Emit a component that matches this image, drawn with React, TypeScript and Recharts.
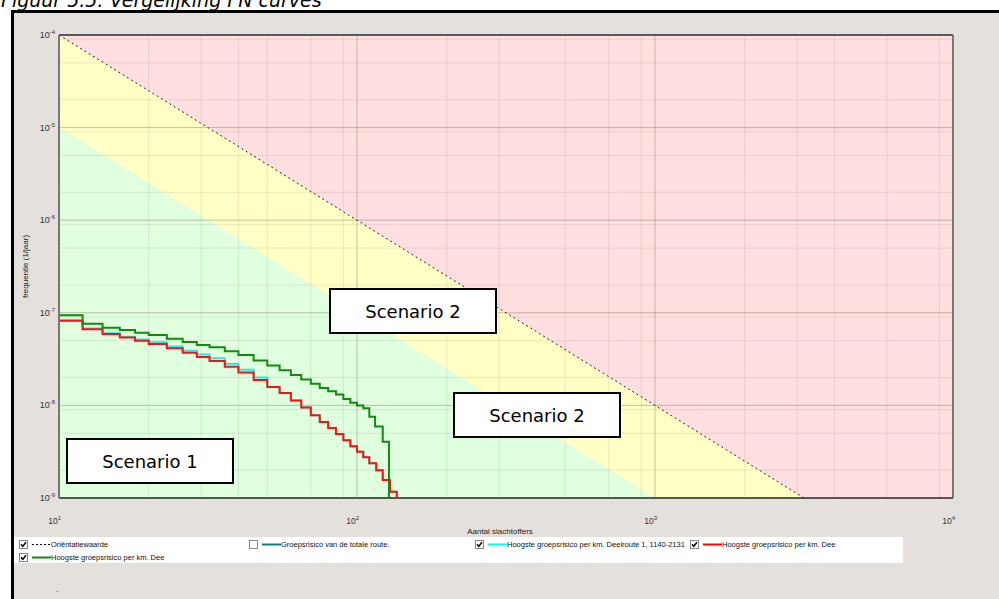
import { Area, CartesianGrid, ComposedChart, Label, Line, ReferenceLine, XAxis, YAxis } from 'recharts';

// N (aantal slachtoffers) and frequency per jaar
const greenN = [10, 12, 14, 16, 18, 20, 23, 26, 29, 32, 36, 40, 45, 50, 55, 60, 65, 70, 75, 80, 85, 90, 95, 100, 105, 110, 115, 122, 128];
const greenF = [9.4e-8, 7.6e-8, 6.9e-8, 6.5e-8, 6.1e-8, 5.75e-8, 5.25e-8, 4.85e-8, 4.5e-8, 4.25e-8, 3.85e-8, 3.5e-8, 3.05e-8, 2.7e-8, 2.4e-8, 2.13e-8, 1.9e-8, 1.71e-8, 1.54e-8, 1.42e-8, 1.31e-8, 1.17e-8, 1.07e-8, 1.0e-8, 9.3e-9, 7.55e-9, 5.9e-9, 4.06e-9, 1e-9];

const redN = [10, 12, 14, 16, 18, 20, 23, 26, 29, 32, 36, 40, 45, 50, 55, 60, 65, 70, 75, 80, 85, 90, 95, 100, 105, 110, 116, 122, 129, 136];
const redF = [8.2e-8, 6.64e-8, 5.9e-8, 5.4e-8, 5.0e-8, 4.6e-8, 4.13e-8, 3.7e-8, 3.33e-8, 3.02e-8, 2.61e-8, 2.26e-8, 1.88e-8, 1.58e-8, 1.36e-8, 1.13e-8, 9.5e-9, 7.85e-9, 6.6e-9, 5.7e-9, 4.9e-9, 4.2e-9, 3.63e-9, 3.16e-9, 2.75e-9, 2.37e-9, 2.0e-9, 1.56e-9, 1.17e-9, 1e-9];
const cyanF = [8.3e-8, 6.75e-8, 6.0e-8, 5.5e-8, 5.15e-8, 4.8e-8, 4.33e-8, 3.9e-8, 3.55e-8, 3.22e-8, 2.8e-8, 2.42e-8, 2.0e-8, 1.58e-8, 1.36e-8, 1.13e-8, 9.5e-9, 7.85e-9, 6.6e-9, 5.7e-9, 4.9e-9, 4.2e-9, 3.63e-9, 3.16e-9, 2.75e-9, 2.37e-9, 2.0e-9, 1.56e-9, 1.17e-9, 1e-9];

// oriëntatiewaarde and the coloured zones
const orientN = [10, 3162];
const orientF = [1e-4, 1e-9];
const redZoneN = [10, 10000];
const redZoneLow = [1e-9, 1e-9];
const redZoneHigh = [1e-4, 1e-4];
const yellowZoneN = [10, 1000, 3162];
const yellowZoneLow = [1e-5, 1e-9, 1e-9];
const yellowZoneHigh = [1e-4, 1e-8, 1e-9];
const greenZoneN = [10, 1000];
const greenZoneLow = [1e-9, 1e-9];
const greenZoneHigh = [1e-5, 1e-9];

const xTicks = [10, 100, 1000, 10000];
const yTicks = [1e-9, 1e-8, 1e-7, 1e-6, 1e-5, 1e-4];

const legendItems = [
  { label: 'Oriëntatiewaarde', color: '#000', dashed: true, checked: true, row: 0, x: 5 },
  { label: 'Groepsrisico van de totale route.', color: '#0a7f86', dashed: false, checked: false, row: 0, x: 235 },
  { label: 'Hoogste groepsrisico per km. Deelroute 1, 1140-2131', color: '#00ffff', dashed: false, checked: true, row: 0, x: 461 },
  { label: 'Hoogste groepsrisico per km. Dee', color: '#ff0000', dashed: false, checked: true, row: 0, x: 676 },
  { label: 'Hoogste groepsrisico per km. Dee', color: '#118a11', dashed: false, checked: true, row: 1, x: 5 },
];

const zip = (n: number[], f: number[]) => n.map((v, i) => ({ n: v, f: f[i] }));
const zipRange = (n: number[], lo: number[], hi: number[]) => n.map((v, i) => ({ n: v, range: [lo[i], hi[i]] }));

const minorX: number[] = [];
for (const d of [10, 100, 1000]) for (let k = 2; k < 10; k++) minorX.push(d * k);
const minorY: number[] = [];
for (const d of [1e-9, 1e-8, 1e-7, 1e-6, 1e-5]) for (let k = 2; k < 10; k++) minorY.push(d * k);

const W = 999;
const H = 599;
const margin = { top: 35, right: 46, left: 14, bottom: 71 };
const tickFont = "'Liberation Sans', Arial, sans-serif";

function YTick({ x, y, payload }: any) {
  const exp = Math.round(Math.log10(payload.value));
  return (
    <text x={x - 4} y={y + 3} textAnchor="end" fontSize={9} fill="#333" fontFamily={tickFont}>
      10<tspan dy={-4} fontSize={6}>{exp}</tspan>
    </text>
  );
}

function XTick({ x, y, payload }: any) {
  const exp = Math.round(Math.log10(payload.value));
  return (
    <text x={x + 2} y={y + 26} textAnchor="end" fontSize={8.5} fill="#333" fontFamily={tickFont}>
      10<tspan dy={-4} fontSize={6}>{exp}</tspan>
    </text>
  );
}

function XTitle({ viewBox }: any) {
  return (
    <text x={viewBox.x + viewBox.width / 2 - 6} y={viewBox.y + 36} textAnchor="middle" fontSize={8} fill="#222" fontFamily={tickFont}>
      Aantal slachtoffers
    </text>
  );
}

function YTitle({ viewBox }: any) {
  const cx = 26;
  const cy = viewBox.y + viewBox.height / 2;
  return (
    <text x={cx} y={cy} transform={`rotate(-90 ${cx} ${cy})`} textAnchor="middle" dominantBaseline="middle" fontSize={8} fill="#222" fontFamily={tickFont}>
      frequentie (1/jaar)
    </text>
  );
}

function CheckBox({ checked }: { checked: boolean }) {
  return (
    <svg width={9} height={9} style={{ position: 'absolute', left: 0, top: 0 }}>
      <rect x={0.5} y={0.5} width={8} height={8} fill="#fff" stroke="#888" />
      {checked && <path d="M2 4.3 L3.8 6.3 L7 2.2" stroke="#000" strokeWidth={1.4} fill="none" />}
    </svg>
  );
}

function FnLegend() {
  return (
    <div style={{ position: 'absolute', left: 14, top: 537, width: 889, height: 26, background: '#fff' }}>
      {legendItems.map((it, i) => {
        const cy = it.row === 0 ? 7 : 20;
        return (
          <div key={i} style={{ position: 'absolute', left: it.x, top: cy - 4, height: 9 }}>
            <CheckBox checked={it.checked} />
            <svg width={20} height={9} style={{ position: 'absolute', left: 13, top: 0 }}>
              <line x1={0} x2={19} y1={4.5} y2={4.5} stroke={it.color} strokeWidth={it.dashed ? 1 : 2} strokeDasharray={it.dashed ? '2 2' : undefined} />
            </svg>
            <span style={{ position: 'absolute', left: 32, top: -1, whiteSpace: 'nowrap', fontFamily: tickFont, fontSize: 7.5, lineHeight: '11px', color: '#111' }}>
              {it.label}
            </span>
          </div>
        );
      })}
    </div>
  );
}

function ScenarioBox({ left, top, text }: { left: number; top: number; text: string }) {
  return (
    <div
      style={{
        position: 'absolute', left, top, width: 168, height: 46, boxSizing: 'border-box',
        border: '2px solid #000', background: '#fff', display: 'flex', alignItems: 'center',
        justifyContent: 'center', fontFamily: "'DejaVu Sans', Verdana, sans-serif", fontSize: 18, color: '#000',
      }}
    >
      {text}
    </div>
  );
}

export default function App() {
  const xAxisProps = {
    dataKey: 'n', type: 'number' as const, scale: 'log' as const, domain: [10, 10000], allowDataOverflow: true,
    ticks: xTicks, height: 30, tickSize: 0, tickMargin: 0, tickLine: false,
  };
  const yAxisProps = {
    type: 'number' as const, scale: 'log' as const, domain: [1e-9, 1e-4], allowDataOverflow: true,
    ticks: yTicks, width: 45, tickSize: 0, tickMargin: 0, tickLine: false,
  };
  return (
    <div style={{ position: 'absolute', left: 0, top: 0, width: W, height: H, background: '#fff', overflow: 'hidden' }}>
      <div
        style={{
          position: 'absolute', left: 1, top: -9, fontFamily: "'DejaVu Sans', Verdana, sans-serif", fontStyle: 'italic',
          fontSize: 19, lineHeight: '19px', color: '#000', whiteSpace: 'nowrap',
        }}
      >
        Figuur 5.5: Vergelijking FN curves
      </div>
      <div style={{ position: 'absolute', left: 11, top: 10, width: W, height: H, borderTop: '3px solid #000', borderLeft: '3px solid #000', background: '#e4e1dc' }} />

      {/* zones */}
      <div style={{ position: 'absolute', left: 0, top: 0 }}>
        <ComposedChart width={W} height={H} margin={margin}>
          <XAxis {...xAxisProps} tick={false} axisLine={false} />
          <YAxis {...yAxisProps} tick={false} axisLine={false} />
          <Area data={zipRange(redZoneN, redZoneLow, redZoneHigh)} dataKey="range" type="linear" stroke="none" fill="#ffdfdf" fillOpacity={1} isAnimationActive={false} />
          <Area data={zipRange(yellowZoneN, yellowZoneLow, yellowZoneHigh)} dataKey="range" type="linear" stroke="none" fill="#ffffc6" fillOpacity={1} isAnimationActive={false} />
          <Area data={zipRange(greenZoneN, greenZoneLow, greenZoneHigh)} dataKey="range" type="linear" stroke="none" fill="#dfffdf" fillOpacity={1} isAnimationActive={false} />
        </ComposedChart>
      </div>

      {/* grid, axes and curves */}
      <div style={{ position: 'absolute', left: 0, top: 0 }}>
        <ComposedChart width={W} height={H} margin={margin}>
          <CartesianGrid horizontalValues={minorY} verticalValues={minorX} stroke="rgba(120,105,95,0.15)" />
          <CartesianGrid horizontalValues={yTicks} verticalValues={xTicks} stroke="rgba(110,95,70,0.38)" />
          <XAxis {...xAxisProps} tick={<XTick />} axisLine={{ stroke: '#555', strokeWidth: 2 }}>
            <Label content={<XTitle />} />
          </XAxis>
          <YAxis {...yAxisProps} tick={<YTick />} axisLine={{ stroke: '#777', strokeWidth: 2 }}>
            <Label content={<YTitle />} />
          </YAxis>
          <ReferenceLine y={1e-4} stroke="#333" strokeWidth={1.5} />
          <ReferenceLine x={10000} stroke="#777" strokeWidth={2} />
          <Line data={zip(orientN, orientF)} dataKey="f" type="linear" stroke="#222" strokeWidth={1} strokeDasharray="2 3" dot={false} isAnimationActive={false} />
          <Line data={zip(redN, cyanF)} dataKey="f" type="stepAfter" stroke="#22e8f0" strokeWidth={2} dot={false} isAnimationActive={false} />
          <Line data={zip(redN, redF)} dataKey="f" type="stepAfter" stroke="#ff1010" strokeWidth={2} dot={false} isAnimationActive={false} />
          <Line data={zip(greenN, greenF)} dataKey="f" type="stepAfter" stroke="#118a11" strokeWidth={2} dot={false} isAnimationActive={false} />
        </ComposedChart>
      </div>

      <ScenarioBox left={66} top={438} text="Scenario 1" />
      <ScenarioBox left={329} top={288} text="Scenario 2" />
      <ScenarioBox left={453} top={392} text="Scenario 2" />
      <FnLegend />
      <div style={{ position: 'absolute', left: 56, top: 591, width: 3, height: 1, background: '#aaa' }} />
    </div>
  );
}
